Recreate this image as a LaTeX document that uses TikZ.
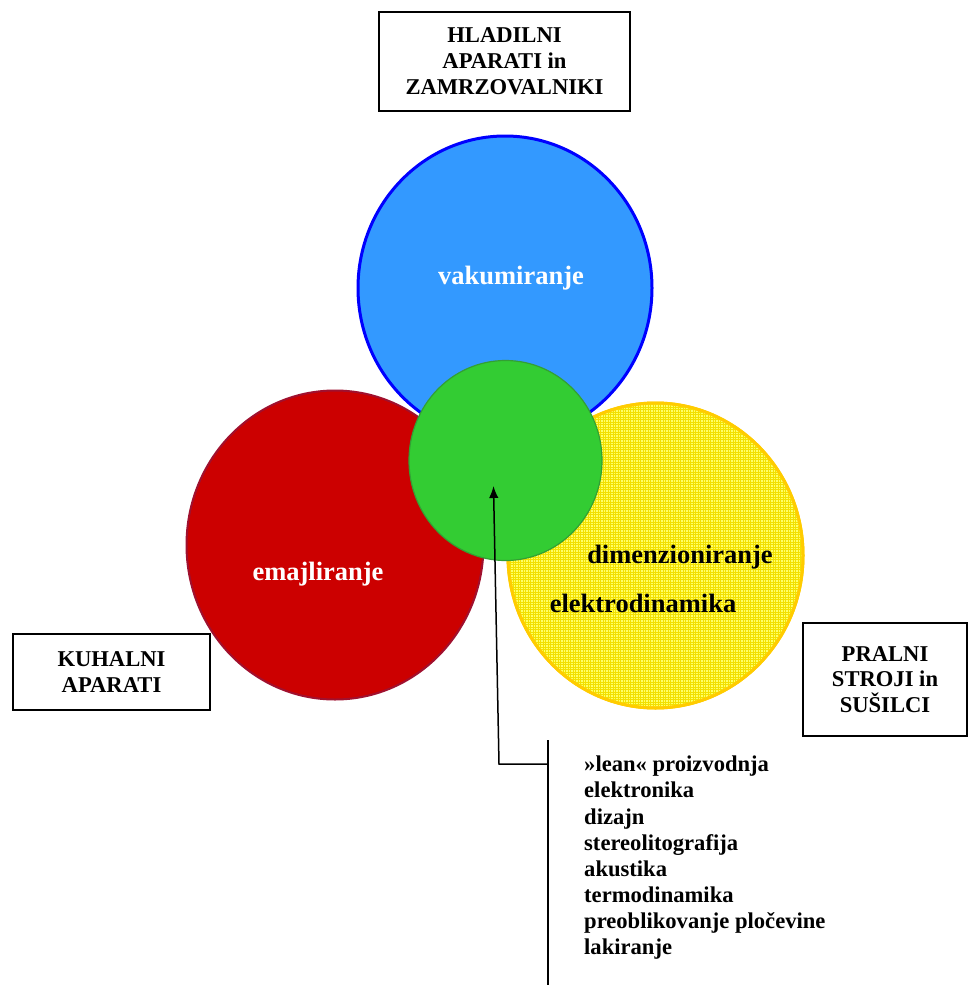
\documentclass[tikz,border=0pt]{standalone}
\usepackage{fontspec}
\setmainfont{Liberation Serif}
\usetikzlibrary{arrows.meta,shapes.geometric}
\definecolor{cblue}{HTML}{3399FF}
\definecolor{cblueline}{HTML}{0000FF}
\definecolor{cred}{HTML}{CC0000}
\definecolor{credline}{HTML}{A0102E}
\definecolor{cyellow}{HTML}{FFFF66}
\definecolor{cyellowgrid}{HTML}{F2E000}
\definecolor{cyellowline}{HTML}{FFCC00}
\definecolor{cgreen}{HTML}{33CC33}
\definecolor{cgreenline}{HTML}{33A033}
\begin{document}
\begin{tikzpicture}[x=1pt,y=-1pt,
  areabox/.style={draw=black,line width=1.5pt,fill=white,align=center,
    inner sep=0pt,font=\bfseries\fontsize{22.6}{25.8}\selectfont},
  disc/.style={ellipse,inner sep=0pt},
  disclabel/.style={font=\bfseries\fontsize{26.5}{30}\selectfont,inner sep=0pt},
  listtext/.style={font=\bfseries\fontsize{22.6}{26.1}\selectfont,align=left,
    anchor=north west,inner sep=0pt},
  conn/.style={line width=1.5pt,black}]
\useasboundingbox (0,0) rectangle (969,985);
\fill[white] (0,0) rectangle (969,985);

% the three process areas
\node[disc,draw=cblueline,line width=3pt,fill=cblue,
  minimum width=294pt,minimum height=304pt] (vak) at (505,288) {};
\node[disc,draw=credline,line width=2pt,fill=cred,
  minimum width=297pt,minimum height=309pt] (ema) at (335,545) {};
\node[disc,draw=cyellowline,line width=3pt,fill=cyellow,
  minimum width=295pt,minimum height=305pt] (dim) at (655.5,555.5) {};
% fine grid texture of the yellow area
\begin{scope}
  \clip (655.5,555.5) ellipse [x radius=146pt,y radius=151pt];
  \foreach \k in {0,...,124} {
    \draw[cyellowgrid,line width=0.5pt] (508+2.5*\k,400) -- (508+2.5*\k,712);
    \draw[cyellowgrid,line width=0.5pt] (505,402+2.5*\k) -- (808,402+2.5*\k);
  }
\end{scope}
\draw[cyellowline,line width=3pt] (655.5,555.5) ellipse [x radius=147.5pt,y radius=152.5pt];
% shared core
\node[disc,draw=cgreenline,line width=1.2pt,fill=cgreen,
  minimum width=193pt,minimum height=200pt] (core) at (505.5,460.5) {};

% labels inside the areas
\node[disclabel,text=white] (lvak) at (511,278) {vakumiranje};
\node[disclabel,text=white] (lema) at (318,574) {emajliranje};
\node[disclabel] (ldim) at (680,557) {dimenzioniranje};
\node[disclabel] (lele) at (643,603) {elektrodinamika};

% product groups
\node[areabox,minimum width=251pt,minimum height=99pt] (hlad) at (504.5,61.5)
  {HLADILNI\\APARATI in\\ZAMRZOVALNIKI};
\node[areabox,minimum width=197pt,minimum height=76pt] (kuh) at (111.5,672)
  {KUHALNI\\APARATI};
\node[areabox,minimum width=164pt,minimum height=113pt] (pral) at (885,679.5)
  {PRALNI\\STROJI in\\SUŠILCI};

% common competences
\node[listtext] (list) at (584,756) {%
  »lean« proizvodnja\\elektronika\\dizajn\\stereolitografija\\akustika\\%
  termodinamika\\preoblikovanje pločevine\\lakiranje};
\coordinate (brtop) at (548,740);
\coordinate (brbot) at (548,985);
\coordinate (brmid) at (548,764);
\coordinate (elbow) at (499,764);
\coordinate (tip) at (493.5,486);
\draw[conn] (brtop) -- (brbot);
\draw[conn,-{Latex[length=12pt,width=9.5pt]}] (brmid) -- (elbow) -- (tip);
\end{tikzpicture}
\end{document}
